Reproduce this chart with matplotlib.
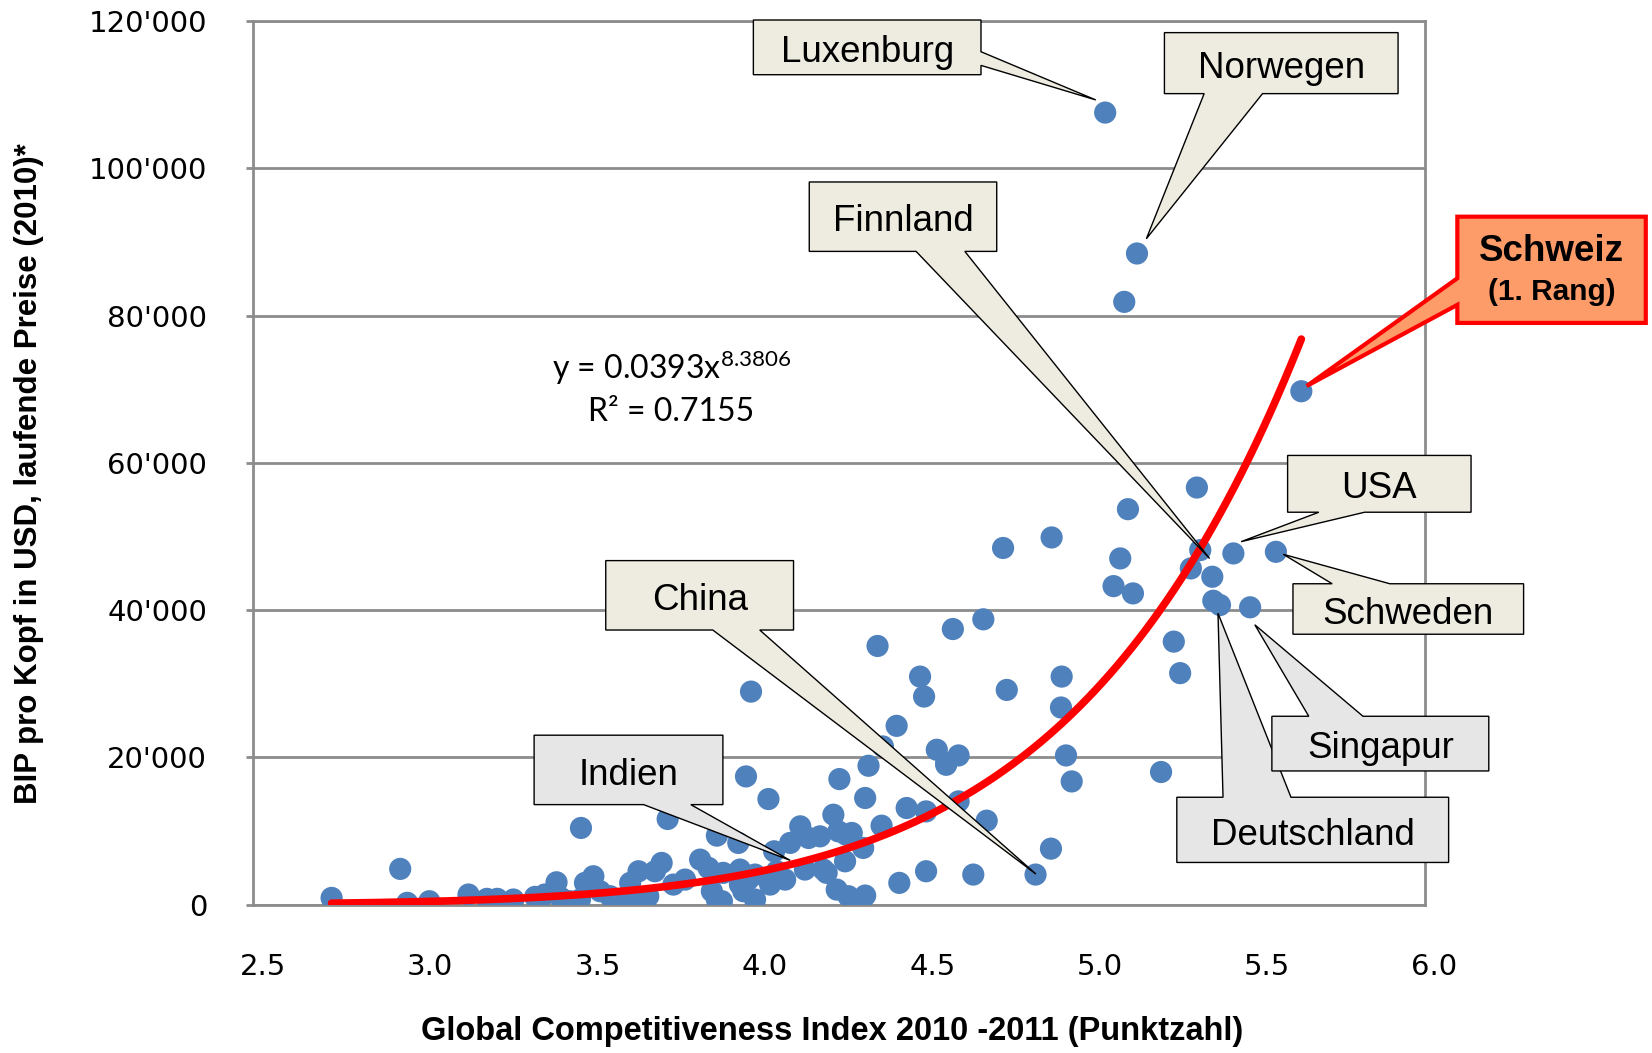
import matplotlib
matplotlib.use('Agg')
import matplotlib.pyplot as plt
import matplotlib.transforms as mtransforms
from matplotlib.patches import Polygon
import numpy as np

# ---------------- data ----------------
gci = [2.735, 2.94, 2.961, 3.027, 3.144, 3.199, 3.23, 3.278, 3.343, 3.372, 3.407, 3.447, 3.48,
       3.973, 4.04, 4.252, 3.739, 3.886, 3.95, 4.057, 4.135, 4.16, 4.194, 4.234, 4.249, 4.272,
       4.269, 4.214, 4.244, 4.279, 4.149, 4.105, 4.065, 4.09, 4.045, 4.0, 3.98, 3.955, 3.955,
       4.0, 3.965, 3.905, 3.861, 3.836, 3.871, 3.901, 3.791, 3.756, 3.721, 3.701, 3.652, 3.627,
       3.681, 3.641, 3.567, 3.517, 3.492, 3.537, 3.477, 3.886, 4.204, 3.60, 3.42,
       4.378, 4.289, 4.323, 4.884, 4.838, 4.652, 4.511, 4.431, 4.329, 4.339, 4.571, 4.329,
       4.453, 4.511, 4.608, 4.692, 4.946, 4.288,
       4.682, 4.591, 4.366, 4.493, 4.505, 4.916, 4.752, 4.914, 4.423, 4.543, 4.608, 4.571,
       4.929, 4.382, 3.988,
       5.32, 5.114, 5.091, 5.071, 5.129, 5.33, 5.302, 5.366, 5.429, 5.556, 5.369, 5.389, 5.479,
       5.632, 5.141, 5.103, 5.046, 4.886, 4.741, 5.251, 5.27, 5.213]
gdp = [900, 4840, 230, 450, 1360, 770, 770, 680, 1040, 1360, 3020, 450, 10400,
       17400, 14330, 17040, 11620, 9360, 8370, 7230, 10620, 9040, 9260, 12200, 9940, 9490,
       5870, 4300, 2030, 1130, 4750, 8370, 4520, 3390, 2710, 4070, 3390, 4750, 2710,
       680, 1810, 4300, 4980, 6100, 1810, 450, 3390, 2710, 5650, 4520, 4520, 2940,
       1130, 910, 1130, 3840, 2940, 1810, 680, 680, 4750, 600, 900,
       10710, 9720, 7690, 7590, 4070, 4070, 4520, 2940, 1220, 18850, 18980, 14470,
       13110, 12650, 14010, 11390, 16720, 570,
       38740, 37420, 35120, 30960, 28250, 30960, 29150, 26760, 24270, 21020, 20250, 19210,
       20250, 21470, 28920,
       56640, 53700, 47010, 43250, 42260, 48140, 45650, 44520, 47690, 47910, 41260, 40680, 40370,
       69720, 88430, 81860, 107570, 49860, 48430, 35710, 31430, 18000]

fit_a = 0.0393
fit_b = 8.3806
fit_r2 = 0.7155

x_ticks = [2.5, 3.0, 3.5, 4.0, 4.5, 5.0, 5.5, 6.0]
y_ticks = [0, 20000, 40000, 60000, 80000, 100000, 120000]
y_tick_labels = ["0", "20'000", "40'000", "60'000", "80'000", "100'000", "120'000"]

# callouts: label, box (x0, x1, y0, y1) in data units, tip (x, y), side, fractions, style
callout_labels = ["Luxenburg", "Norwegen", "Finnland", "China", "Indien",
                  "USA", "Schweden", "Deutschland", "Singapur"]
callout_boxes = [(3.995, 4.675, 112714, 120143), (5.223, 5.921, 110143, 118429),
                 (4.162, 4.722, 88714, 98143), (3.554, 4.115, 37286, 46714),
                 (3.340, 3.904, 13571, 23000), (5.591, 6.139, 53286, 61000),
                 (5.607, 6.296, 36714, 43571), (5.260, 6.072, 5714, 14571),
                 (5.544, 6.192, 18143, 25571)]
callout_tips = [(5.018, 109286), (5.169, 90429), (5.358, 47000), (4.839, 4143),
                (4.105, 6000), (5.452, 49286), (5.578, 47571), (5.383, 39571), (5.493, 38000)]
callout_sides = ["right", "bottom", "bottom", "bottom", "bottom", "bottom", "top", "top", "top"]
callout_fracs = [(0.58, 0.83), (0.17, 0.42), (0.57, 0.83), (0.57, 0.82), (0.58, 0.83),
                 (0.17, 0.42), (0.17, 0.42), (0.17, 0.42), (0.17, 0.42)]
callout_colors = ["#eeece1", "#eeece1", "#eeece1", "#eeece1", "#e6e6e6",
                  "#eeece1", "#eeece1", "#e6e6e6", "#e6e6e6"]

swiss_title = "Schweiz"
swiss_rank = "(1. Rang)"
swiss_box = (6.098, 6.661, 79000, 93429)
swiss_tip = (5.648, 70429)

# ---------------- figure ----------------
fig = plt.figure(figsize=(16.52, 10.53), dpi=100)
ax = fig.add_axes([0.1531, 0.1410, 0.7092, 0.8390])
ax.set_xlim(2.5, 6.0)
ax.set_ylim(0, 120000)

ax.yaxis.grid(True, color='#8c8c8c', linewidth=2)
ax.set_axisbelow(True)
for sp in ax.spines.values():
    sp.set_color('#8c8c8c')
    sp.set_linewidth(2)

ax.scatter(gci, gdp, s=255, color='#4f81bd', edgecolors='none', zorder=3)

xf = np.linspace(min(gci), max(gci), 400)
ax.plot(xf, fit_a * xf ** fit_b, color='#ff0000', linewidth=5.5, zorder=4,
        solid_capstyle='round')

ax.set_xticks(x_ticks)
ax.set_xticklabels([f"{t:.1f}" for t in x_ticks])
ax.set_yticks(y_ticks)
ax.set_yticklabels(y_tick_labels)
ax.tick_params(axis='x', length=0, pad=35, labelsize=21)
ax.tick_params(axis='y', length=5, width=2, color='#8c8c8c', pad=28, labelsize=21)
off = mtransforms.ScaledTranslation(0.10, 0, fig.dpi_scale_trans)
for lab in ax.get_xticklabels():
    lab.set_transform(lab.get_transform() + off)

title_font = ['Liberation Sans Narrow', 'Liberation Sans', 'DejaVu Sans']
fig.text(0.504, 0.020, "Global Competitiveness Index 2010 -2011 (Punktzahl)",
         ha='center', va='center', fontsize=23.5, fontweight='bold', family=title_font)
fig.text(0.0173, 0.55, "BIP pro Kopf in USD, laufende Preise (2010)*",
         ha='center', va='center', rotation=90, fontsize=22.5, fontweight='bold',
         family=title_font)

# equation
plt.rcParams['mathtext.default'] = 'regular'
ax.text(3.75, 72857, f"y = {fit_a}x$^{{{fit_b}}}$", ha='center', va='center',
        fontsize=23, family='Lato', zorder=6)
ax.text(3.75, 66857, f"R² = {fit_r2}", ha='center', va='center',
        fontsize=23, family='Lato', zorder=6)


def callout_poly(box, tip, side, fr):
    x0, x1, y0, y1 = box
    w, h = x1 - x0, y1 - y0
    f1, f2 = fr
    TL, TR, BR, BL = (x0, y1), (x1, y1), (x1, y0), (x0, y0)
    if side == 'top':
        pts = [TL, (x0 + f1 * w, y1), tip, (x0 + f2 * w, y1), TR, BR, BL]
    elif side == 'right':
        pts = [TL, TR, (x1, y1 - f1 * h), tip, (x1, y1 - f2 * h), BR, BL]
    elif side == 'bottom':
        pts = [TL, TR, BR, (x0 + f2 * w, y0), tip, (x0 + f1 * w, y0), BL]
    else:
        pts = [TL, TR, BR, BL, (x0, y1 - f2 * h), tip, (x0, y1 - f1 * h)]
    return pts


label_font = ['Liberation Sans', 'DejaVu Sans']
for i, lab in enumerate(callout_labels):
    pts = callout_poly(callout_boxes[i], callout_tips[i], callout_sides[i], callout_fracs[i])
    poly = Polygon(pts, closed=True, facecolor=callout_colors[i], edgecolor='black',
                   linewidth=1.0, clip_on=False, zorder=10 + i)
    ax.add_patch(poly)
    x0, x1, y0, y1 = callout_boxes[i]
    ax.text((x0 + x1) / 2, (y0 + y1) / 2 - 700, lab, ha='center', va='center',
            fontsize=26.5, family=label_font, zorder=10 + i, clip_on=False)

pts = callout_poly(swiss_box, swiss_tip, 'left', (0.58, 0.83))
ax.add_patch(Polygon(pts, closed=True, facecolor='#fd9b69', edgecolor='#ff0000',
                     linewidth=3, clip_on=False, zorder=30))
x0, x1, y0, y1 = swiss_box
ax.text((x0 + x1) / 2, y1 - 0.33 * (y1 - y0), swiss_title, ha='center', va='center',
        fontsize=26.5, fontweight='bold', family=label_font, zorder=31, clip_on=False)
ax.text((x0 + x1) / 2, y1 - 0.71 * (y1 - y0), swiss_rank, ha='center', va='center',
        fontsize=21.5, fontweight='bold', family=label_font, zorder=31, clip_on=False)

fig.savefig('out.png', dpi=100)
